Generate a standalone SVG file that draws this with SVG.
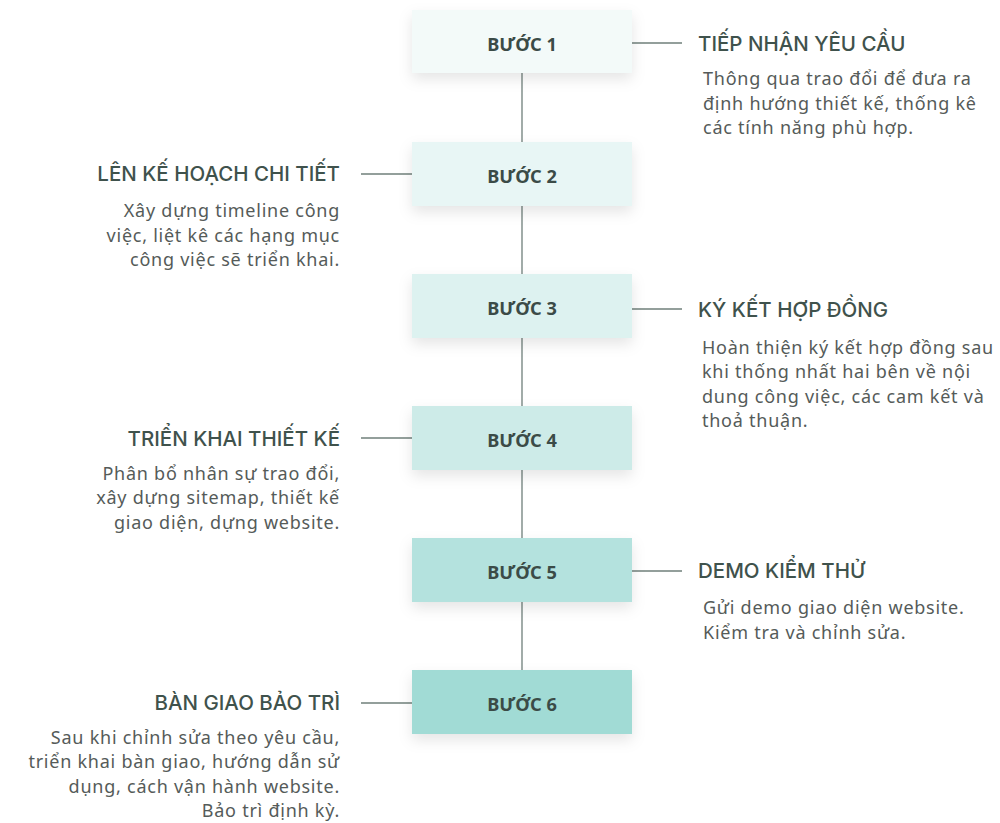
<svg xmlns="http://www.w3.org/2000/svg" width="1000" height="823" viewBox="0 0 1000 823">
<defs>
<filter id="sh" x="-20%" y="-30%" width="140%" height="180%">
<feDropShadow dx="0" dy="6" stdDeviation="7" flood-color="#000" flood-opacity="0.10"/>
</filter>
<style>
.box{filter:url(#sh);}
.bt{font-family:"Noto Sans","Liberation Sans",sans-serif;font-size:18.2px;font-weight:700;fill:#3b4b47;text-anchor:middle;}
.tt{font-family:Inter,"Noto Sans","Liberation Sans",sans-serif;font-size:20.5px;font-weight:550;fill:#3f524c;}
.ds{font-family:"Noto Sans","Liberation Sans",sans-serif;font-size:18px;letter-spacing:0.75px;fill:#555b59;}
.r{text-anchor:end;}
.ln{stroke:#6f7f7a;stroke-width:1.3;fill:none;}
</style>
</defs>
<rect width="1000" height="823" fill="#ffffff"/>
<g id="connectors">
<line class="ln" x1="522" y1="73" x2="522" y2="142"/>
<line class="ln" x1="522" y1="206" x2="522" y2="274"/>
<line class="ln" x1="522" y1="338" x2="522" y2="406"/>
<line class="ln" x1="522" y1="470" x2="522" y2="538"/>
<line class="ln" x1="522" y1="602" x2="522" y2="670"/>
<line class="ln" x1="632" y1="43" x2="682" y2="43"/>
<line class="ln" x1="361" y1="174" x2="412" y2="174"/>
<line class="ln" x1="632" y1="309" x2="682" y2="309"/>
<line class="ln" x1="361" y1="438" x2="412" y2="438"/>
<line class="ln" x1="632" y1="571" x2="682" y2="571"/>
<line class="ln" x1="361" y1="703" x2="412" y2="703"/>
</g>
<g id="step1">
<rect class="box" x="412" y="10" width="220" height="63" fill="#f3faf9"/>
<text class="bt" x="522" y="51">BƯỚC 1</text>
<text class="tt" x="698" y="51">TIẾP NHẬN YÊU CẦU</text>
<text class="ds" x="703" y="85">Thông qua trao đổi để đưa ra</text>
<text class="ds" x="703" y="110">định hướng thiết kế, thống kê</text>
<text class="ds" x="703" y="134">các tính năng phù hợp.</text>
</g>
<g id="step2">
<rect class="box" x="412" y="142" width="220" height="64" fill="#e8f6f5"/>
<text class="bt" x="522" y="183">BƯỚC 2</text>
<text class="tt r" x="340" y="181">LÊN KẾ HOẠCH CHI TIẾT</text>
<text class="ds r" x="340" y="217">Xây dựng timeline công</text>
<text class="ds r" x="340" y="242">việc, liệt kê các hạng mục</text>
<text class="ds r" x="340" y="266">công việc sẽ triển khai.</text>
</g>
<g id="step3">
<rect class="box" x="412" y="274" width="220" height="64" fill="#ddf2f0"/>
<text class="bt" x="522" y="315">BƯỚC 3</text>
<text class="tt" x="698" y="317">KÝ KẾT HỢP ĐỒNG</text>
<text class="ds" x="702" y="354">Hoàn thiện ký kết hợp đồng sau</text>
<text class="ds" x="702" y="378">khi thống nhất hai bên về nội</text>
<text class="ds" x="702" y="403">dung công việc, các cam kết và</text>
<text class="ds" x="702" y="427">thoả thuận.</text>
</g>
<g id="step4">
<rect class="box" x="412" y="406" width="220" height="64" fill="#cdebe8"/>
<text class="bt" x="522" y="447">BƯỚC 4</text>
<text class="tt r" x="340" y="446">TRIỂN KHAI THIẾT KẾ</text>
<text class="ds r" x="340" y="480">Phân bổ nhân sự trao đổi,</text>
<text class="ds r" x="340" y="504">xây dựng sitemap, thiết kế</text>
<text class="ds r" x="340" y="529">giao diện, dựng website.</text>
</g>
<g id="step5">
<rect class="box" x="412" y="538" width="220" height="64" fill="#b4e2de"/>
<text class="bt" x="522" y="579">BƯỚC 5</text>
<text class="tt" x="698" y="578">DEMO KIỂM THỬ</text>
<text class="ds" x="703" y="614">Gửi demo giao diện website.</text>
<text class="ds" x="703" y="639">Kiểm tra và chỉnh sửa.</text>
</g>
<g id="step6">
<rect class="box" x="412" y="670" width="220" height="64" fill="#a1dbd5"/>
<text class="bt" x="522" y="711">BƯỚC 6</text>
<text class="tt r" x="340" y="710">BÀN GIAO BẢO TRÌ</text>
<text class="ds r" x="340" y="744">Sau khi chỉnh sửa theo yêu cầu,</text>
<text class="ds r" x="340" y="768">triển khai bàn giao, hướng dẫn sử</text>
<text class="ds r" x="340" y="793">dụng, cách vận hành website.</text>
<text class="ds r" x="340" y="817">Bảo trì định kỳ.</text>
</g>
</svg>
